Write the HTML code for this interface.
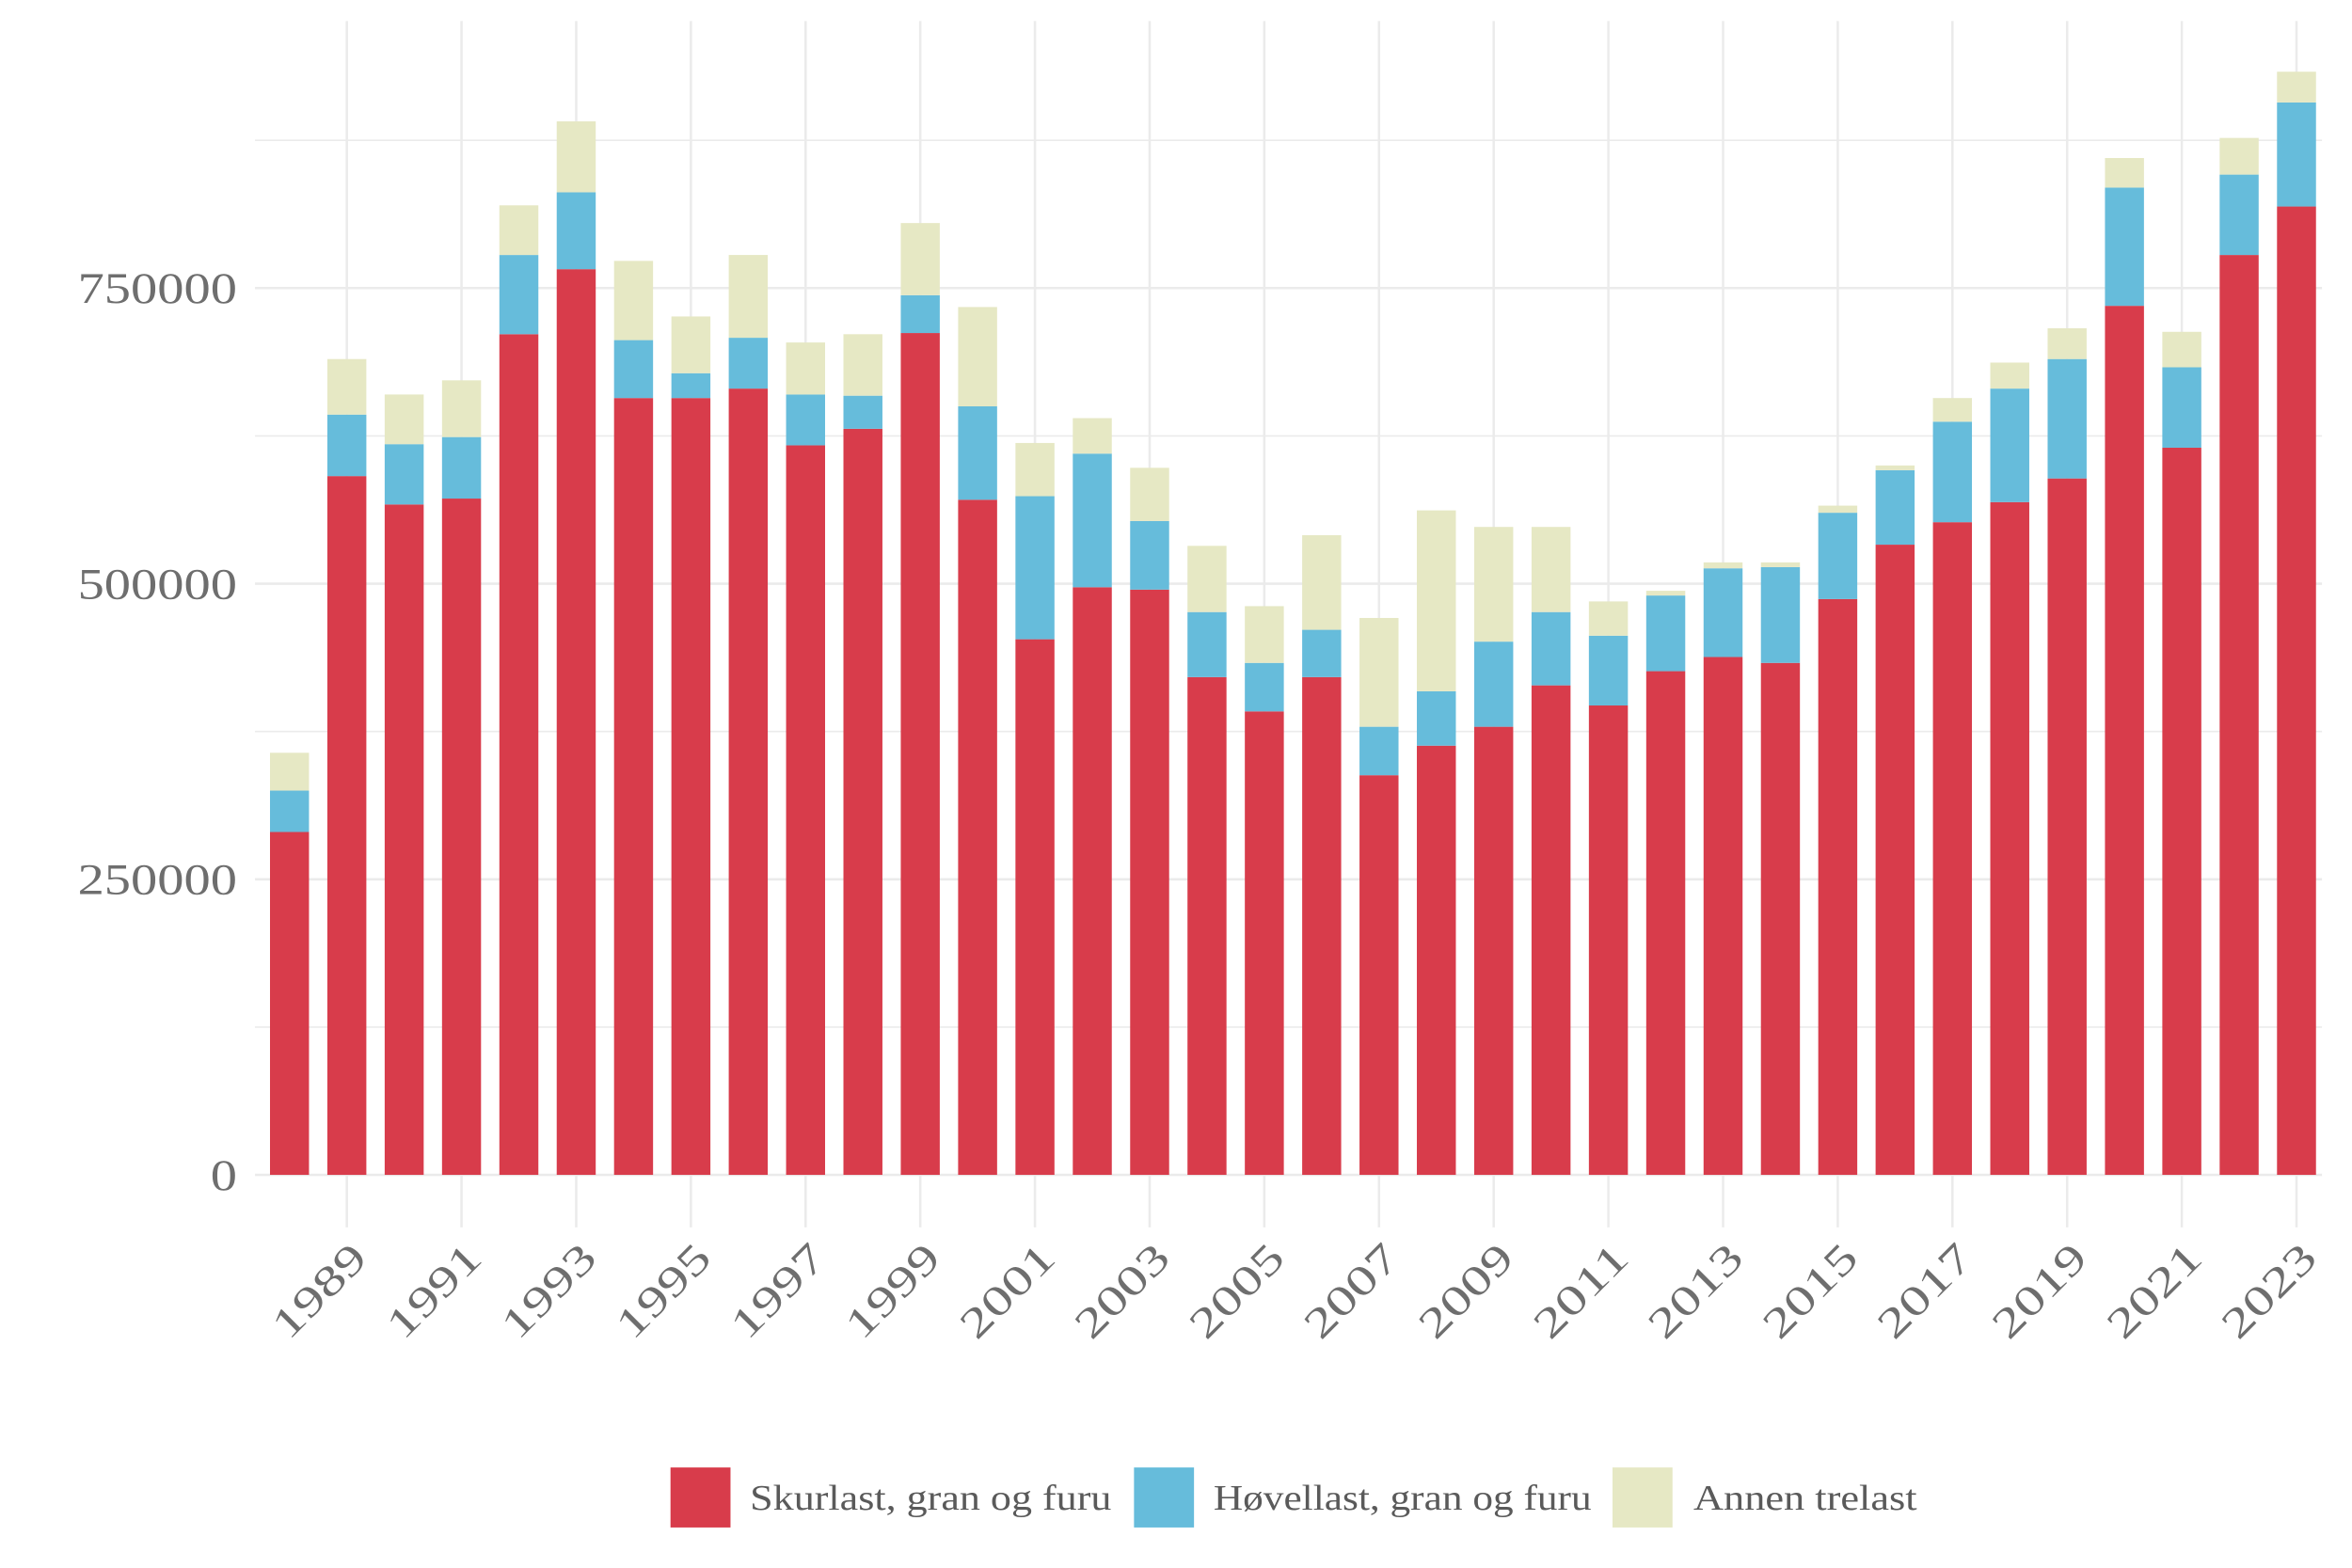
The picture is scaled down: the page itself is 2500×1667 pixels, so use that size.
<!DOCTYPE html>
<html><head><meta charset="utf-8"><style>
html,body{margin:0;padding:0;background:#fff}
svg{display:block}
text{font-family:"Liberation Serif",serif;fill:#6e6e6e}
</style></head><body>
<svg id="chart" width="2500" height="1667" viewBox="0 0 1568 1045" preserveAspectRatio="none" xmlns="http://www.w3.org/2000/svg">
<g id="grid"></g>
<g id="bars"></g>
<g id="yaxis"></g>
<g id="xaxis"></g>
<g>
<g><rect x="447" y="978" width="40" height="40" fill="#d83c4b"/><text x="500" y="1006" font-size="24" textLength="241" lengthAdjust="spacingAndGlyphs" style="fill:#5a5a5a">Skurlast, gran og furu</text></g>
<g><rect x="756" y="978" width="40" height="40" fill="#66bcdb"/><text x="809" y="1006" font-size="24" textLength="252" lengthAdjust="spacingAndGlyphs" style="fill:#5a5a5a">Høvellast, gran og furu</text></g>
<g><rect x="1075" y="978" width="40" height="40" fill="#e6e8c4"/><text x="1129" y="1006" font-size="24" textLength="149" lengthAdjust="spacingAndGlyphs" style="fill:#5a5a5a">Annen trelast</text></g>
</g>
</svg>
<script>
const years = [1988,1989,1990,1991,1992,1993,1994,1995,1996,1997,1998,1999,2000,2001,2002,2003,2004,2005,2006,2007,2008,2009,2010,2011,2012,2013,2014,2015,2016,2017,2018,2019,2020,2021,2022,2023];
const skurlast = [290,591,567,572,711,766,657,657,665,617,631,712,571,453,497,495,421,392,421,338,363,379,414,397,426,438,433,487,533,552,569,589,735,615,778,819].map(v=>v*1000);
const hovellast = [35,52,51,52,67,65,49,21,43,43,28,32,79,121,113,58,55,41,40,41,46,72,62,59,64,75,81,73,63,85,96,101,100,68,68,88].map(v=>v*1000);
const annen = [32,47,42,48,42,60,67,48,70,44,52,61,84,45,30,45,56,48,80,92,153,97,72,29,4,5,4,6,4,20,22,26,25,30,31,26].map(v=>v*1000);
const yTicks = [0,250000,500000,750000];
const colors = ['#d83c4b','#66bcdb','#e6e8c4'];
const NS='http://www.w3.org/2000/svg';
const x0=170,x1=1548,yBase=783,pxPer=197/250000;
const step=(1531-193)/35;
function xPos(i){return 193+i*step;}
function yPos(v){return yBase-v*pxPer;}
function mk(tag,attrs,parent){const e=document.createElementNS(NS,tag);for(const k in attrs)e.setAttribute(k,attrs[k]);parent.appendChild(e);return e;}
const grid=document.getElementById('grid'),bars=document.getElementById('bars'),ya=document.getElementById('yaxis'),xa=document.getElementById('xaxis');
for(let v=0;v<=1000000;v+=125000){const y=yPos(v);if(y<14)break;
 const l=mk('line',{x1:x0,x2:x1,y1:y,y2:y,stroke:'#ebebeb','stroke-width':(v%250000===0)?1.6:1},grid);
 
 }
yTicks.forEach(v=>{const s=String(v);const t=mk('text',{x:158,y:yPos(v)+10,'text-anchor':'end','font-size':29,textLength:s.length*17.7,lengthAdjust:'spacingAndGlyphs'},ya);t.textContent=s;
 
 });
years.forEach((yr,i)=>{
 const cx=xPos(i);
 if(yr%2===1){
  const l=mk('line',{x1:cx,x2:cx,y1:14,y2:818,stroke:'#ebebeb','stroke-width':1.6},grid);
  
  
  const t=mk('text',{x:cx+15,y:840,'text-anchor':'end','font-size':28,textLength:76,lengthAdjust:'spacingAndGlyphs',transform:`rotate(-45 ${cx+15} 840)`},xa);
  t.textContent=String(yr);
  
  
 }
 let acc=0;
 [skurlast[i],hovellast[i],annen[i]].forEach((v,s)=>{
  const r=mk('rect',{x:cx-13,width:26,y:yPos(acc+v),height:v*pxPer,fill:colors[s]},bars);
  
  
  acc+=v;
 });
});
</script>
</body></html>
